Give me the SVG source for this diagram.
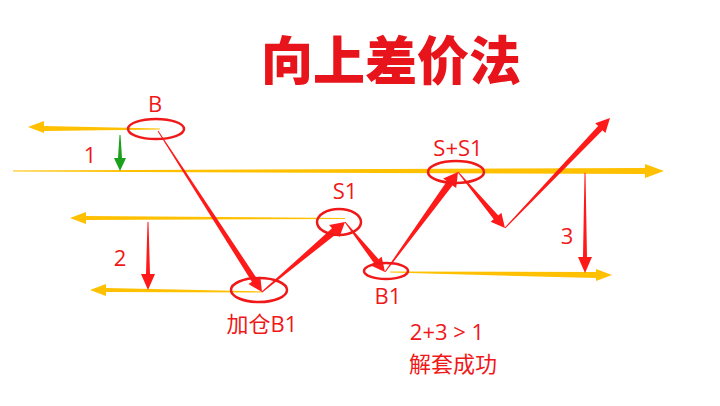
<svg xmlns="http://www.w3.org/2000/svg" width="720" height="406" viewBox="0 0 720 406">
<style>
.o{fill:#FFC000}.r{fill:#FF1A1A}.g{fill:#1AA01A}
.e{fill:none;stroke:#F01818;stroke-width:2.5}
.t{font-family:"Open Sans","Noto Sans CJK SC",sans-serif;font-size:22px;fill:#F01818;text-anchor:middle}
</style>
<rect width="720" height="406" fill="#fff"/>
<text x="391" y="80" style="font-family:'Noto Sans CJK SC',sans-serif;font-weight:900;font-size:52px;fill:#E8141B;text-anchor:middle">向上差价法</text>
<g id="levels">
<polygon class="o" points="160,128.5 44,126 44,121 28,127 44,133 44,131 160,129.5"/>
<polygon class="o" points="13,170.5 645,168 645,164 664,171 645,178 645,174 13,171.5"/>
<polygon class="o" points="345,218 86,216 86,212 70,218 86,224 86,220 345,219"/>
<polygon class="o" points="262,291.5 106,288 106,284 90,290 106,296 106,292 262,292.5"/>
<polygon class="o" points="390,271.5 596,272 596,269 612,275 596,281 596,278 390,272.5"/>
</g>
<g id="connectors">
<polygon class="r" points="157.6,131.3 251.9,281.8 248.5,284.0 262,292 260.3,276.4 256.9,278.6 158.4,130.7"/>
<polygon class="r" points="262.3,292.4 336.6,233.7 339.5,237.1 345,222 329.1,224.9 332.0,228.3 261.7,291.6"/>
<polygon class="r" points="344.6,222.3 373.9,263.0 370.8,265.5 385,272 381.7,256.7 378.6,259.2 345.4,221.7"/>
<polygon class="r" points="385.4,272.3 452.5,185.4 456.2,188.0 458,172 443.2,178.6 446.9,181.2 384.6,271.7"/>
<polygon class="r" points="457.6,172.3 493.7,219.2 490.6,221.8 505,228 501.4,212.8 498.3,215.4 458.4,171.7"/>
<polygon class="r" points="505.4,228.3 602.5,130.2 605.4,132.9 610,118 595.2,123.3 598.1,126.0 504.6,227.7"/>
<polygon class="g" points="119.5,135 118,158 114,158 120,171 126,158 122,158 120.5,135"/>
<polygon class="r" points="147.5,222 146,274 141,274 148,290 155,274 150,274 148.5,222"/>
<polygon class="r" points="584.5,173 583,257 578,257 585,273 592,257 587,257 585.5,173"/>
</g>
<g id="B"><ellipse class="e" cx="156" cy="129" rx="28" ry="10"/><text class="t" x="155" y="112">B</text></g>
<g id="B1add"><ellipse class="e" cx="259" cy="290" rx="28" ry="12"/><text class="t" x="262" y="332">加仓B1</text></g>
<g id="S1"><ellipse class="e" cx="339" cy="222" rx="22" ry="13"/><text class="t" x="345" y="199">S1</text></g>
<g id="B1"><ellipse class="e" cx="386" cy="271" rx="22" ry="8"/><text class="t" x="388" y="304">B1</text></g>
<g id="SS1"><ellipse class="e" cx="456" cy="172" rx="28" ry="11"/><text class="t" x="458" y="156">S+S1</text></g>
<g id="labels">
<text class="t" x="90" y="163">1</text>
<text class="t" x="120" y="266">2</text>
<text class="t" x="567" y="244">3</text>
<text class="t" x="447" y="340">2+3 &gt; 1</text>
<text class="t" x="453" y="372">解套成功</text>
</g>
</svg>
